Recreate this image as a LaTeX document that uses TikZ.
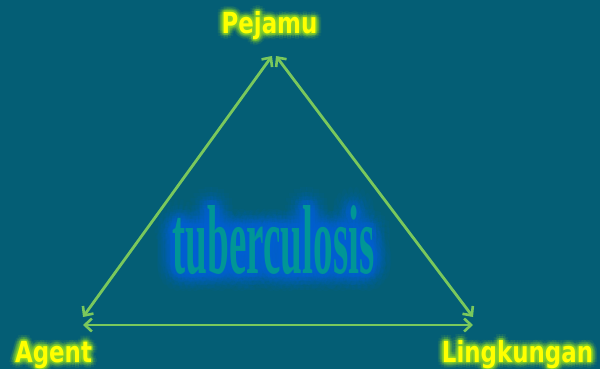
\documentclass[tikz,border=0pt]{standalone}
\usepackage{fontspec}
\setmainfont{DejaVu Sans}
\newfontfamily\tbfont{Liberation Serif}
\usetikzlibrary{arrows.meta}
\definecolor{bg}{RGB}{4,94,117}
\definecolor{ln}{RGB}{122,200,92}
\definecolor{lbl}{RGB}{255,255,0}
\definecolor{lglow}{RGB}{140,215,40}
\definecolor{tb}{RGB}{0,150,150}
\definecolor{tbglow}{RGB}{0,100,215}
\begin{document}
\begin{tikzpicture}[x=1pt,y=-1pt,
  lbltext/.style={font=\bfseries\fontsize{29}{32}\selectfont, text=lbl, anchor=base, inner sep=0pt, xscale=0.79},
  tbtext/.style={font=\tbfont\bfseries\fontsize{98}{100}\selectfont, text=tb, anchor=base, inner sep=0pt, xscale=0.4},
  link/.style={draw=ln, line width=2.8pt, {Straight Barb[length=7pt,width=13pt,line width=2.6pt]}-{Straight Barb[length=7pt,width=13pt,line width=2.6pt]}}
]
\fill[bg] (0,0) rectangle (600,369);
\useasboundingbox (0,0) rectangle (600,369);

% glow of central word
\foreach \r/\o [count=\i] in {18/0.07,13/0.09,9/0.12,5/0.15}
  \foreach \a [count=\j] in {0,20,...,340}
    \node[tbtext, text=tbglow, opacity=\o] (tg\i-\j) at ([shift={(\a:\r)}]273.5,273) {tuberculosis};
\node[tbtext] (tb) at (273.5,273) {tuberculosis};

% glows of labels
\foreach \r/\o [count=\i] in {6/0.09,4/0.14,2/0.28}
  \foreach \a [count=\j] in {0,30,...,330}{
    \node[lbltext, text=lglow, opacity=\o] (pg\i-\j) at ([shift={(\a:\r)}]269.5,33.5) {Pejamu};
    \node[lbltext, text=lglow, opacity=\o] (ag\i-\j) at ([shift={(\a:\r)}]53.5,362) {Agent};
    \node[lbltext, text=lglow, opacity=\o] (lg\i-\j) at ([shift={(\a:\r)}]517.5,362) {Lingkungan};
  }
\node[lbltext] (pejamu) at (269.5,33.5) {Pejamu};
\node[lbltext] (agent) at (53.5,362) {Agent};
\node[lbltext] (ling) at (517.5,362) {Lingkungan};

% arrow end points
\coordinate (topL) at (272,56);
\coordinate (topR) at (276,56);
\coordinate (agL) at (83,317);
\coordinate (agB) at (83,325);
\coordinate (liR) at (473,317);
\coordinate (liB) at (473,325);

\draw[link] (agL) -- (topL);
\draw[link] (topR) -- (liR);
\draw[link] (agB) -- (liB);
\end{tikzpicture}
\end{document}
